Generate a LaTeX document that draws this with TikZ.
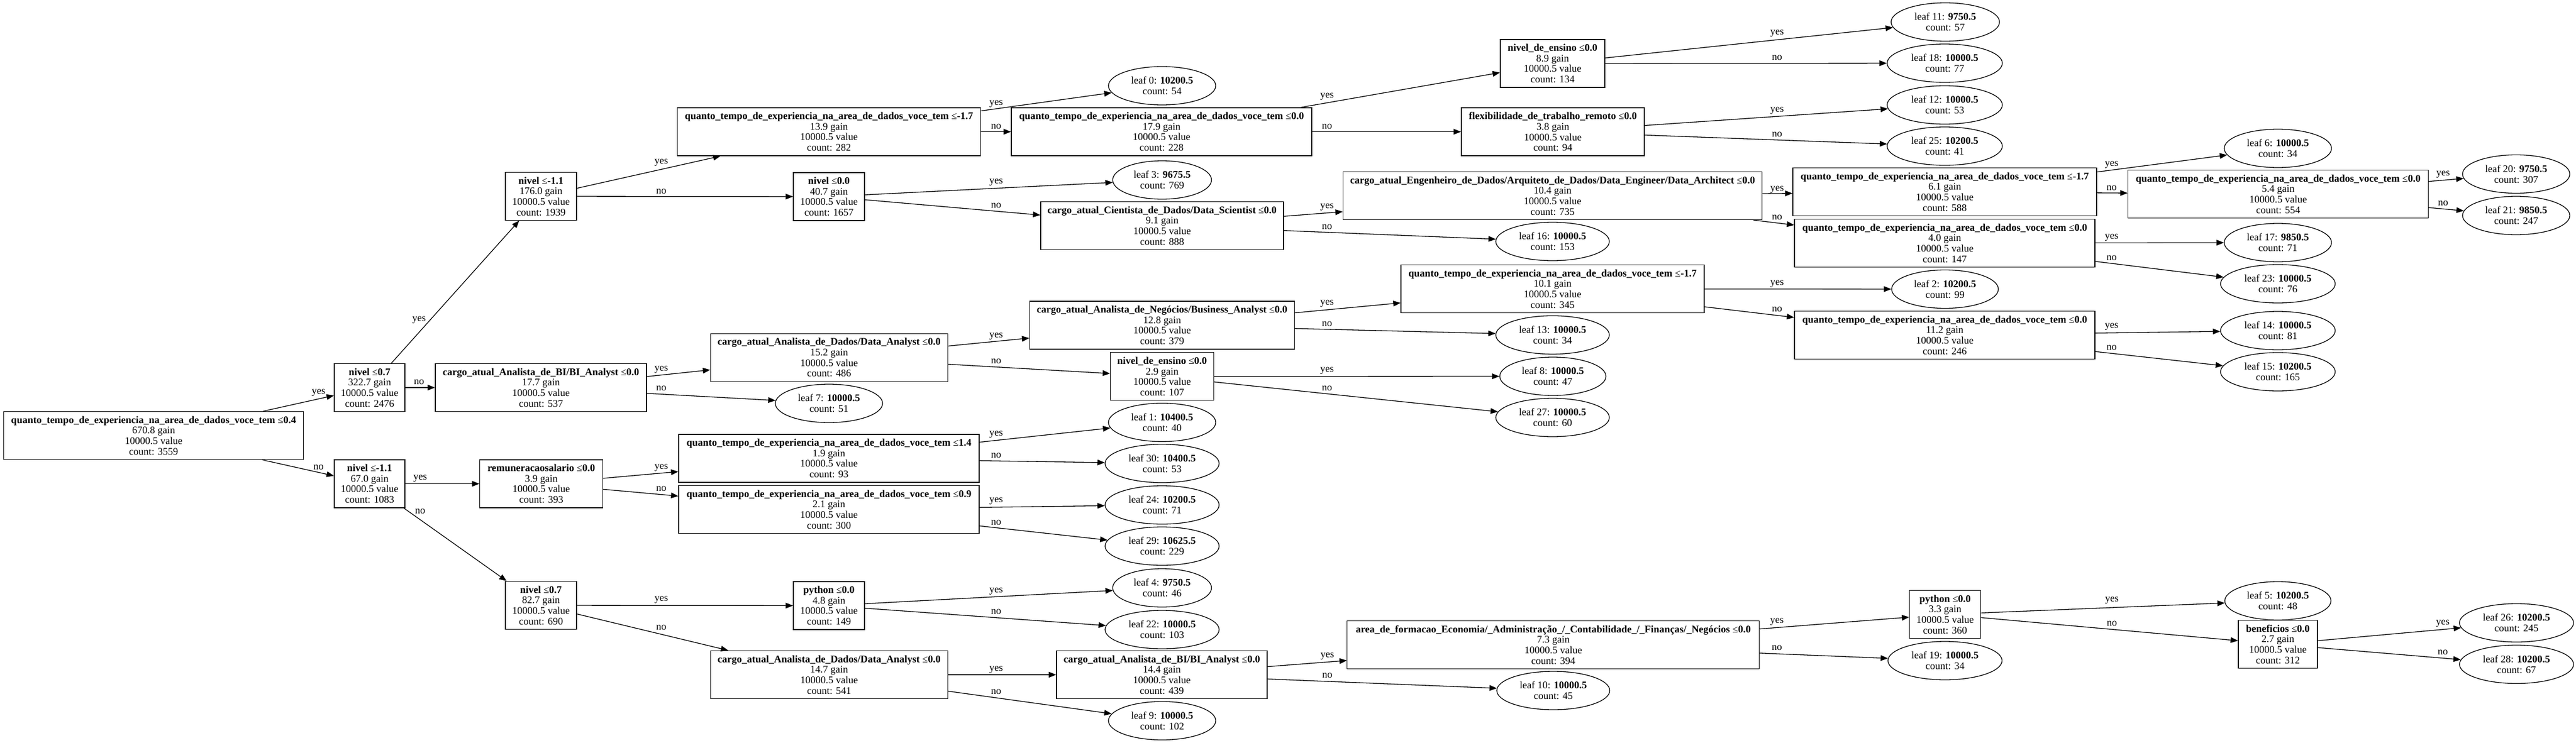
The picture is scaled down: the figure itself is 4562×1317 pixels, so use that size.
\documentclass[tikz,border=0pt]{standalone}
\usepackage{fontspec}
\setmainfont{Liberation Serif}
\usetikzlibrary{arrows.meta,shapes.geometric}
\newcommand\nodefont{\fontsize{18}{18.7}\selectfont}
\newcommand\qtname{quanto\_tempo\_de\_experiencia\_na\_area\_de\_dados\_voce\_tem}
\newcommand\dn[2]{\textbf{#1} ≤\textbf{#2}}
\newcommand\lf[3]{leaf #1: \textbf{#2}\\count: #3}
\tikzset{
 dbox/.style={draw, line width=1.3pt, rectangle, minimum height=85, inner sep=0pt, align=center, font=\nodefont},
 leafnode/.style={draw, line width=1.3pt, ellipse, minimum height=68, inner sep=0pt, align=center, font=\nodefont},
 edge/.style={line width=1.3pt, -{Triangle[length=13pt,width=10pt]}},
 lbl/.style={font=\nodefont, inner sep=0pt},
}
\begin{document}
\begin{tikzpicture}[x=1pt,y=-1pt]
\useasboundingbox (0,0) rectangle (4562,1317);
% column 0-2
\node[dbox,minimum width=531] (root) at (272,772) {\dn{\qtname}{0.4}\\670.8 gain\\10000.5 value\\count: 3559};
\node[dbox,minimum width=125] (n2) at (654.5,687) {\dn{nivel}{0.7}\\322.7 gain\\10000.5 value\\count: 2476};
\node[dbox,minimum width=125] (n4) at (654.5,857.5) {\dn{nivel}{-1.1}\\67.0 gain\\10000.5 value\\count: 1083};
\node[dbox,minimum width=126] (n1) at (958,348) {\dn{nivel}{-1.1}\\176.0 gain\\10000.5 value\\count: 1939};
\node[dbox,minimum width=374] (n3) at (958,687) {\dn{cargo\_atual\_Analista\_de\_BI/BI\_Analyst}{0.0}\\17.7 gain\\10000.5 value\\count: 537};
\node[dbox,minimum width=218] (n5) at (958.5,857.5) {\dn{remuneracaosalario}{0.0}\\3.9 gain\\10000.5 value\\count: 393};
\node[dbox,minimum width=126] (n6) at (958,1073) {\dn{nivel}{0.7}\\82.7 gain\\10000.5 value\\count: 690};
% column 3
\node[dbox,minimum width=537] (q1) at (1468,233.5) {\dn{\qtname}{-1.7}\\13.9 gain\\10000.5 value\\count: 282};
\node[dbox,minimum width=126] (n7) at (1468,348.5) {\dn{nivel}{0.0}\\40.7 gain\\10000.5 value\\count: 1657};
\node[dbox,minimum width=420] (n10) at (1468.4,633.7) {\dn{cargo\_atual\_Analista\_de\_Dados/Data\_Analyst}{0.0}\\15.2 gain\\10000.5 value\\count: 486};
\node[leafnode,minimum width=190] (l7) at (1468,715) {\lf{7}{10000.5}{51}};
\node[dbox,minimum width=532] (q3) at (1468,812.5) {\dn{\qtname}{1.4}\\1.9 gain\\10000.5 value\\count: 93};
\node[dbox,minimum width=532] (q4) at (1468,903) {\dn{\qtname}{0.9}\\2.1 gain\\10000.5 value\\count: 300};
\node[dbox,minimum width=126] (n12) at (1468,1073.5) {\dn{python}{0.0}\\4.8 gain\\10000.5 value\\count: 149};
\node[dbox,minimum width=420] (n13) at (1468.4,1196) {\dn{cargo\_atual\_Analista\_de\_Dados/Data\_Analyst}{0.0}\\14.7 gain\\10000.5 value\\count: 541};
% column 4
\node[leafnode,minimum width=190] (l0) at (2058,152) {\lf{0}{10200.5}{54}};
\node[dbox,minimum width=532] (q2) at (2057,233.5) {\dn{\qtname}{0.0}\\17.9 gain\\10000.5 value\\count: 228};
\node[leafnode,minimum width=175] (l3) at (2058,319) {\lf{3}{9675.5}{769}};
\node[dbox,minimum width=430] (n8) at (2058,400) {\dn{cargo\_atual\_Cientista\_de\_Dados/Data\_Scientist}{0.0}\\9.1 gain\\10000.5 value\\count: 888};
\node[dbox,minimum width=469] (n9) at (2058,576.5) {\dn{cargo\_atual\_Analista\_de\_Negócios/Business\_Analyst}{0.0}\\12.8 gain\\10000.5 value\\count: 379};
\node[dbox,minimum width=183] (n11) at (2058,667.3) {\dn{nivel\_de\_ensino}{0.0}\\2.9 gain\\10000.5 value\\count: 107};
\node[leafnode,minimum width=190] (l1) at (2058,748.7) {\lf{1}{10400.5}{40}};
\node[leafnode,minimum width=202] (l30) at (2058,821.5) {\lf{30}{10400.5}{53}};
\node[leafnode,minimum width=202] (l24) at (2058,895) {\lf{24}{10200.5}{71}};
\node[leafnode,minimum width=202] (l29) at (2058,968) {\lf{29}{10625.5}{229}};
\node[leafnode,minimum width=175] (l4) at (2058,1042) {\lf{4}{9750.5}{46}};
\node[leafnode,minimum width=202] (l22) at (2058,1116) {\lf{22}{10000.5}{103}};
\node[dbox,minimum width=373] (n14) at (2057.6,1196) {\dn{cargo\_atual\_Analista\_de\_BI/BI\_Analyst}{0.0}\\14.4 gain\\10000.5 value\\count: 439};
\node[leafnode,minimum width=190] (l9) at (2058,1277.5) {\lf{9}{10000.5}{102}};
% column 5
\node[dbox,minimum width=185] (n15) at (2749.5,112.5) {\dn{nivel\_de\_ensino}{0.0}\\8.9 gain\\10000.5 value\\count: 134};
\node[dbox,minimum width=324] (n16) at (2750,233.5) {\dn{flexibilidade\_de\_trabalho\_remoto}{0.0}\\3.8 gain\\10000.5 value\\count: 94};
\node[dbox,minimum width=742] (n17) at (2749.6,347) {\dn{cargo\_atual\_Engenheiro\_de\_Dados/Arquiteto\_de\_Dados/Data\_Engineer/Data\_Architect}{0.0}\\10.4 gain\\10000.5 value\\count: 735};
\node[leafnode,minimum width=201] (l16) at (2749.5,428) {\lf{16}{10000.5}{153}};
\node[dbox,minimum width=537] (q5) at (2749.5,512) {\dn{\qtname}{-1.7}\\10.1 gain\\10000.5 value\\count: 345};
\node[leafnode,minimum width=201] (l13) at (2749.5,593.7) {\lf{13}{10000.5}{34}};
\node[leafnode,minimum width=188] (l8) at (2750,667) {\lf{8}{10000.5}{47}};
\node[leafnode,minimum width=201] (l27) at (2749.5,740) {\lf{27}{10000.5}{60}};
\node[dbox,minimum width=730] (n18) at (2750.8,1143) {\dn{area\_de\_formacao\_Economia/\_Administração\_/\_Contabilidade\_/\_Finanças/\_Negócios}{0.0}\\7.3 gain\\10000.5 value\\count: 394};
\node[leafnode,minimum width=200] (l10) at (2750.8,1224) {\lf{10}{10000.5}{45}};
% column 6
\node[leafnode,minimum width=192] (l11) at (3445,39) {\lf{11}{9750.5}{57}};
\node[leafnode,minimum width=204] (l18) at (3444,112) {\lf{18}{10000.5}{77}};
\node[leafnode,minimum width=204] (l12) at (3444,186) {\lf{12}{10000.5}{53}};
\node[leafnode,minimum width=204] (l25) at (3444,259) {\lf{25}{10200.5}{41}};
\node[dbox,minimum width=538] (q7) at (3444,340) {\dn{\qtname}{-1.7}\\6.1 gain\\10000.5 value\\count: 588};
\node[dbox,minimum width=532] (q8) at (3444,431) {\dn{\qtname}{0.0}\\4.0 gain\\10000.5 value\\count: 147};
\node[leafnode,minimum width=189] (l2) at (3444.5,512.5) {\lf{2}{10200.5}{99}};
\node[dbox,minimum width=532] (q6) at (3444,594) {\dn{\qtname}{0.0}\\11.2 gain\\10000.5 value\\count: 246};
\node[dbox,minimum width=126] (n19) at (3444.7,1089) {\dn{python}{0.0}\\3.3 gain\\10000.5 value\\count: 360};
\node[leafnode,minimum width=202] (l19) at (3444.5,1171) {\lf{19}{10000.5}{34}};
% column 7
\node[leafnode,minimum width=190] (l6) at (4034,263) {\lf{6}{10000.5}{34}};
\node[dbox,minimum width=532] (q9) at (4034.5,344) {\dn{\qtname}{0.0}\\5.4 gain\\10000.5 value\\count: 554};
\node[leafnode,minimum width=190] (l17) at (4034,430) {\lf{17}{9850.5}{71}};
\node[leafnode,minimum width=203] (l23) at (4034,503) {\lf{23}{10000.5}{76}};
\node[leafnode,minimum width=203] (l14) at (4034,586) {\lf{14}{10000.5}{81}};
\node[leafnode,minimum width=203] (l15) at (4034,659) {\lf{15}{10200.5}{165}};
\node[leafnode,minimum width=188] (l5) at (4034,1065) {\lf{5}{10200.5}{48}};
\node[dbox,minimum width=140] (n20) at (4034,1142) {\dn{beneficios}{0.0}\\2.7 gain\\10000.5 value\\count: 312};
% column 8
\node[leafnode,minimum width=190] (l20) at (4456,308.5) {\lf{20}{9750.5}{307}};
\node[leafnode,minimum width=190] (l21) at (4456,382) {\lf{21}{9850.5}{247}};
\node[leafnode,minimum width=202] (l26) at (4456.6,1104) {\lf{26}{10200.5}{245}};
\node[leafnode,minimum width=202] (l28) at (4456.6,1177.5) {\lf{28}{10200.5}{67}};
% edges
\foreach \a/\b in {root/n2,root/n4,n2/n1,n2/n3,n4/n5,n4/n6,
  n1/q1,n1/n7,n3/n10,n3/l7,n5/q3,n5/q4,n6/n12,n6/n13,
  q1/l0,q1/q2,n7/l3,n7/n8,n10/n9,n10/n11,q3/l1,q3/l30,q4/l24,q4/l29,n12/l4,n12/l22,n13/n14,n13/l9,
  q2/n15,q2/n16,n8/n17,n8/l16,n9/q5,n9/l13,n11/l8,n11/l27,n14/n18,n14/l10,
  n15/l11,n15/l18,n16/l12,n16/l25,n17/q7,n17/q8,q5/l2,q5/q6,n18/n19,n18/l19,
  q7/l6,q7/q9,q8/l17,q8/l23,q6/l14,q6/l15,n19/l5,n19/n20,
  q9/l20,q9/l21,n20/l26,n20/l28}
  \draw[edge] (\a) -- (\b);
% edge labels
\node[lbl] (e1) at (564,696) {yes};
\node[lbl] (e2) at (564,828) {no};
\node[lbl] (e3) at (742,567.6) {yes};
\node[lbl] (e4) at (742,677) {no};
\node[lbl] (e5) at (744,848) {yes};
\node[lbl] (e6) at (744,906.7) {no};
\node[lbl] (e7) at (1171,288.6) {yes};
\node[lbl] (e8) at (1171,339) {no};
\node[lbl] (e9) at (1171,655) {yes};
\node[lbl] (e10) at (1171,688) {no};
\node[lbl] (e11) at (1171,829) {yes};
\node[lbl] (e12) at (1171,866.7) {no};
\node[lbl] (e13) at (1171,1063.5) {yes};
\node[lbl] (e14) at (1171,1112.7) {no};
\node[lbl] (e15) at (1764,184) {yes};
\node[lbl] (e16) at (1764,224) {no};
\node[lbl] (e17) at (1764,323) {yes};
\node[lbl] (e18) at (1764,364) {no};
\node[lbl] (e19) at (1764,596) {yes};
\node[lbl] (e20) at (1764,640.7) {no};
\node[lbl] (e21) at (1764,770) {yes};
\node[lbl] (e22) at (1764,807) {no};
\node[lbl] (e23) at (1764,888) {yes};
\node[lbl] (e24) at (1764,926) {no};
\node[lbl] (e25) at (1764,1048) {yes};
\node[lbl] (e26) at (1764,1084) {no};
\node[lbl] (e27) at (1764,1186.7) {yes};
\node[lbl] (e28) at (1764,1226.7) {no};
\node[lbl] (e29) at (2350,170.7) {yes};
\node[lbl] (e30) at (2350,224) {no};
\node[lbl] (e31) at (2350,367) {yes};
\node[lbl] (e32) at (2350,402.5) {no};
\node[lbl] (e33) at (2350,538.3) {yes};
\node[lbl] (e34) at (2350,574.3) {no};
\node[lbl] (e35) at (2350,656.7) {yes};
\node[lbl] (e36) at (2350,688.3) {no};
\node[lbl] (e37) at (2350.5,1163) {yes};
\node[lbl] (e38) at (2350.5,1197) {no};
\node[lbl] (e39) at (3147,59) {yes};
\node[lbl] (e40) at (3147,102.5) {no};
\node[lbl] (e41) at (3147,195.7) {yes};
\node[lbl] (e42) at (3147,238.6) {no};
\node[lbl] (e43) at (3147,335.7) {yes};
\node[lbl] (e44) at (3147,385) {no};
\node[lbl] (e45) at (3147,502.7) {yes};
\node[lbl] (e46) at (3147,548.3) {no};
\node[lbl] (e47) at (3146.8,1101.7) {yes};
\node[lbl] (e48) at (3146.8,1148.3) {no};
\node[lbl] (e49) at (3739.5,292) {yes};
\node[lbl] (e50) at (3739.5,333) {no};
\node[lbl] (e51) at (3739.5,421.4) {yes};
\node[lbl] (e52) at (3739.5,457) {no};
\node[lbl] (e53) at (3739.5,579.3) {yes};
\node[lbl] (e54) at (3739.5,616.7) {no};
\node[lbl] (e55) at (3740,1064) {yes};
\node[lbl] (e56) at (3740,1105) {no};
\node[lbl] (e57) at (4326.5,309) {yes};
\node[lbl] (e58) at (4326.5,360) {no};
\node[lbl] (e59) at (4326,1105) {yes};
\node[lbl] (e60) at (4326,1156) {no};
\end{tikzpicture}
\end{document}
